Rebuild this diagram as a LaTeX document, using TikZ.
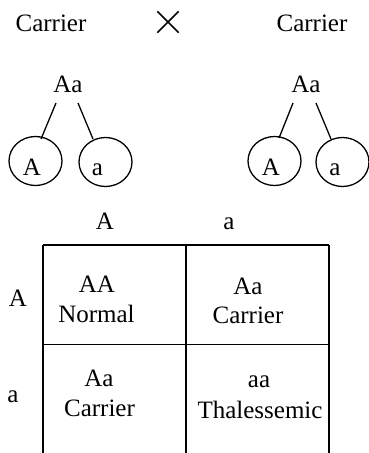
\documentclass[tikz,border=0pt]{standalone}
\usepackage{fontspec}
\setmainfont{Liberation Serif}
\usetikzlibrary{shapes.geometric,calc}
\begin{document}
\begin{tikzpicture}[x=1pt,y=-1pt,
  txt/.style={font=\fontsize{25}{30}\selectfont, inner sep=0pt, anchor=base},
  allele/.style={ellipse, draw, line width=1.3pt, minimum width=53pt, minimum height=49pt, inner sep=0pt},
  branch/.style={line width=1.3pt},
  gridline/.style={line width=1.6pt}]
\useasboundingbox (0,0) rectangle (369,453);
% parents
\node[txt] (carL) at (51,31) {Carrier};
\node[txt] (carR) at (312,31) {Carrier};
\node[minimum size=21pt, inner sep=0pt] (cross) at (168,22) {};
\draw[line width=1.5pt] (cross.north west) -- (cross.south east)
  (cross.north east) -- (cross.south west);
\node[txt] (AaL) at (68,92) {Aa};
\node[txt] (AaR) at (306,92) {Aa};
% gametes
\node[allele] (cAL) at (35.5,161) {};
\node[allele] (caL) at (105.5,162) {};
\node[allele] (cAR) at (274.5,161) {};
\node[allele] (caR) at (342.5,162) {};
\node[txt] (tAL) at (32,175) {A};
\node[txt] (taL) at (97.5,175) {a};
\node[txt] (tAR) at (271,175) {A};
\node[txt] (taR) at (335,175) {a};
\draw[branch] ($(AaL.base)+(-12,11)$) -- ($(cAL.center)+(5.5,-22)$);
\draw[branch] ($(AaL.base)+(10,11)$) -- ($(caL.center)+(-12.5,-23)$);
\draw[branch] ($(AaR.base)+(-13,11)$) -- ($(cAR.center)+(4.5,-23)$);
\draw[branch] ($(AaR.base)+(10,11)$) -- ($(caR.center)+(-11.5,-23)$);
% Punnett square
\coordinate (TL) at (43,245);
\coordinate (TM) at (185.7,245);
\coordinate (TR) at (329,245);
\coordinate (ML) at (43,344.3);
\coordinate (MR) at (329,344.3);
\coordinate (BL) at (43,453);
\coordinate (BM) at (185.7,453);
\coordinate (BR) at (329,453);
\draw[gridline] (TL) -- (TR);
\draw[gridline] (ML) -- (MR);
\draw[gridline] (TL) -- (BL);
\draw[gridline] (TM) -- (BM);
\draw[gridline] (TR) -- (BR);
\node[txt] (hA) at (105,229) {A};
\node[txt] (ha) at (229,229) {a};
\node[txt] (rA) at (18,306) {A};
\node[txt] (ra) at (13,402) {a};
\node[txt] (c11a) at (97,292) {AA};
\node[txt] (c11b) at (96.5,322) {Normal};
\node[txt] (c12a) at (248,294) {Aa};
\node[txt] (c12b) at (248,323) {Carrier};
\node[txt] (c21a) at (99,386) {Aa};
\node[txt] (c21b) at (99.5,416) {Carrier};
\node[txt] (c22a) at (259,387) {aa};
\node[txt] (c22b) at (260,418) {Thalessemic};
\end{tikzpicture}
\end{document}
